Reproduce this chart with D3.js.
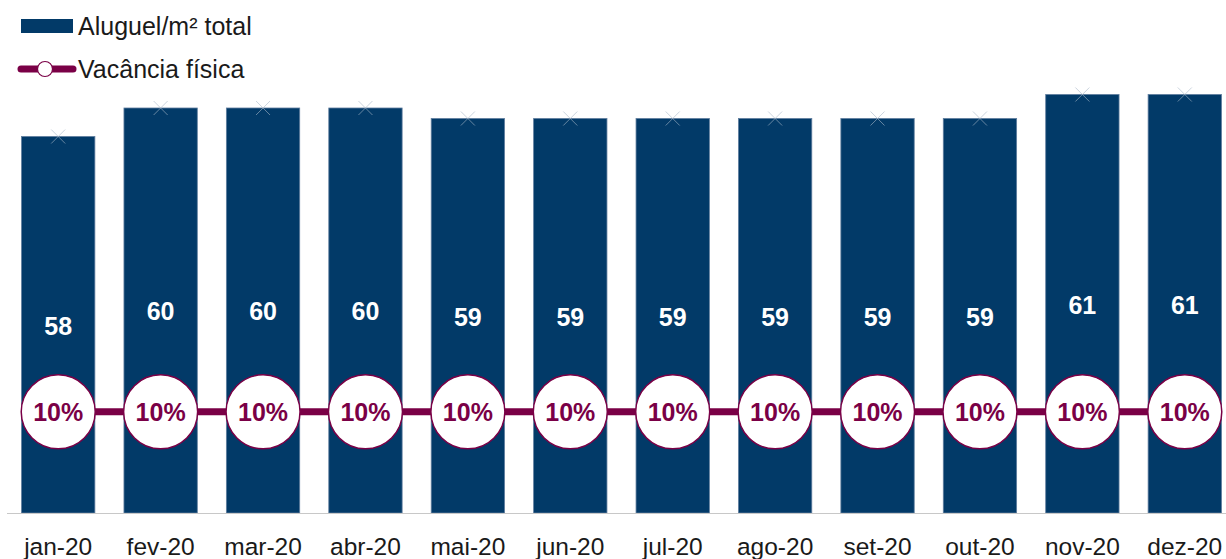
<!DOCTYPE html>
<html>
<head>
<meta charset="utf-8">
<script src="https://cdn.jsdelivr.net/npm/d3@7"></script>
<style>
  body { margin: 0; background: #fff; }
  svg { display: block; font-family: "Liberation Sans", Arial, sans-serif; }
</style>
</head>
<body>
<div class="graph_wrapper"></div>
<script>
var months = ['jan-20', 'fev-20', 'mar-20', 'abr-20', 'mai-20', 'jun-20',
              'jul-20', 'ago-20', 'set-20', 'out-20', 'nov-20', 'dez-20'];
var aluguel = [58.1, 60.0, 60.0, 60.0, 59.3, 59.3, 59.3, 59.3, 59.3, 59.3, 60.9, 60.9];
var vacancia = [0.10, 0.10, 0.10, 0.10, 0.10, 0.10, 0.10, 0.10, 0.10, 0.10, 0.10, 0.10];

var width = 1226;
var height = 559;
var navy = '#023a68';
var maroon = '#7a0046';

var svg = d3.select('.graph_wrapper').append('svg')
  .attr('width', width).attr('height', height);

var x = d3.scaleBand().domain(months).range([7, 1236])
  .paddingInner(0.284).paddingOuter(0.142);
var y = d3.scaleLinear().domain([33, 62]).range([513, 78]);
var y2 = d3.scaleLinear().domain([0, 0.43]).range([513, 78]);

var data = months.map(function (m, i) {
  return { month: m, aluguel: aluguel[i], vacancia: vacancia[i] };
});

// bars
svg.selectAll('.bar').data(data).enter().append('rect')
  .attr('class', 'bar')
  .attr('x', function (d) { return x(d.month); })
  .attr('y', function (d) { return y(d.aluguel); })
  .attr('width', x.bandwidth())
  .attr('height', function (d) { return y.range()[0] - y(d.aluguel); })
  .attr('fill', navy)
  .attr('stroke', '#5f7d9e')
  .attr('stroke-width', 0.8);

// faint x markers on top of bars
var cross = 7;
svg.selectAll('.mark').data(data).enter().append('path')
  .attr('class', 'mark')
  .attr('d', function (d) {
    var cx = x(d.month) + x.bandwidth() / 2, cy = y(d.aluguel);
    return 'M' + (cx - cross) + ',' + (cy - cross) + 'L' + (cx + cross) + ',' + (cy + cross) +
      'M' + (cx - cross) + ',' + (cy + cross) + 'L' + (cx + cross) + ',' + (cy - cross);
  })
  .attr('stroke', '#a9b8c8')
  .attr('stroke-opacity', 0.6)
  .attr('stroke-width', 1);

// bar value labels
svg.selectAll('.val').data(data).enter().append('text')
  .attr('class', 'val')
  .attr('x', function (d) { return x(d.month) + x.bandwidth() / 2; })
  .attr('y', function (d) { return (y(d.aluguel) + y.range()[0]) / 2 + 1; })
  .attr('dy', '0.35em')
  .attr('text-anchor', 'middle')
  .attr('fill', '#fff')
  .attr('font-weight', 'bold')
  .attr('font-size', 25)
  .text(function (d) { return d3.format('.0f')(d.aluguel); });

// x axis
svg.append('line')
  .attr('x1', 7).attr('x2', width)
  .attr('y1', 513.5).attr('y2', 513.5)
  .attr('stroke', '#c8c8c8').attr('stroke-width', 1);

svg.selectAll('.xlab').data(months).enter().append('text')
  .attr('class', 'xlab')
  .attr('x', function (d) { return x(d) + x.bandwidth() / 2; })
  .attr('y', 555)
  .attr('text-anchor', 'middle')
  .attr('fill', '#1a1a1a')
  .attr('font-size', 24.5)
  .text(function (d) { return d; });

// vacancy line
var line = d3.line()
  .x(function (d) { return x(d.month) + x.bandwidth() / 2; })
  .y(function (d) { return y2(d.vacancia); });

svg.append('path').datum(data)
  .attr('d', line)
  .attr('fill', 'none')
  .attr('stroke', maroon)
  .attr('stroke-width', 7);

svg.selectAll('.dot').data(data).enter().append('circle')
  .attr('class', 'dot')
  .attr('cx', function (d) { return x(d.month) + x.bandwidth() / 2; })
  .attr('cy', function (d) { return y2(d.vacancia); })
  .attr('r', 37)
  .attr('fill', '#fff')
  .attr('stroke', maroon)
  .attr('stroke-width', 1.5);

svg.selectAll('.pct').data(data).enter().append('text')
  .attr('class', 'pct')
  .attr('x', function (d) { return x(d.month) + x.bandwidth() / 2; })
  .attr('y', function (d) { return y2(d.vacancia); })
  .attr('dy', '0.35em')
  .attr('text-anchor', 'middle')
  .attr('fill', maroon)
  .attr('font-weight', 'bold')
  .attr('font-size', 25)
  .text(function (d) { return d3.format('.0%')(d.vacancia); });

// legend
var legend = svg.append('g').attr('class', 'legend');
legend.append('rect')
  .attr('x', 21).attr('y', 19).attr('width', 52).attr('height', 14)
  .attr('fill', navy);
legend.append('text')
  .attr('x', 78).attr('y', 35)
  .attr('font-size', 25).attr('fill', '#1a1a1a')
  .text('Aluguel/m² total');

legend.append('line')
  .attr('x1', 21).attr('x2', 73).attr('y1', 69).attr('y2', 69)
  .attr('stroke', maroon).attr('stroke-width', 7).attr('stroke-linecap', 'round');
legend.append('circle')
  .attr('cx', 45).attr('cy', 69).attr('r', 7.5)
  .attr('fill', '#fff').attr('stroke', maroon).attr('stroke-width', 1.2);
legend.append('text')
  .attr('x', 78).attr('y', 78)
  .attr('font-size', 25).attr('fill', '#1a1a1a')
  .text('Vacância física');
</script>
</body>
</html>
